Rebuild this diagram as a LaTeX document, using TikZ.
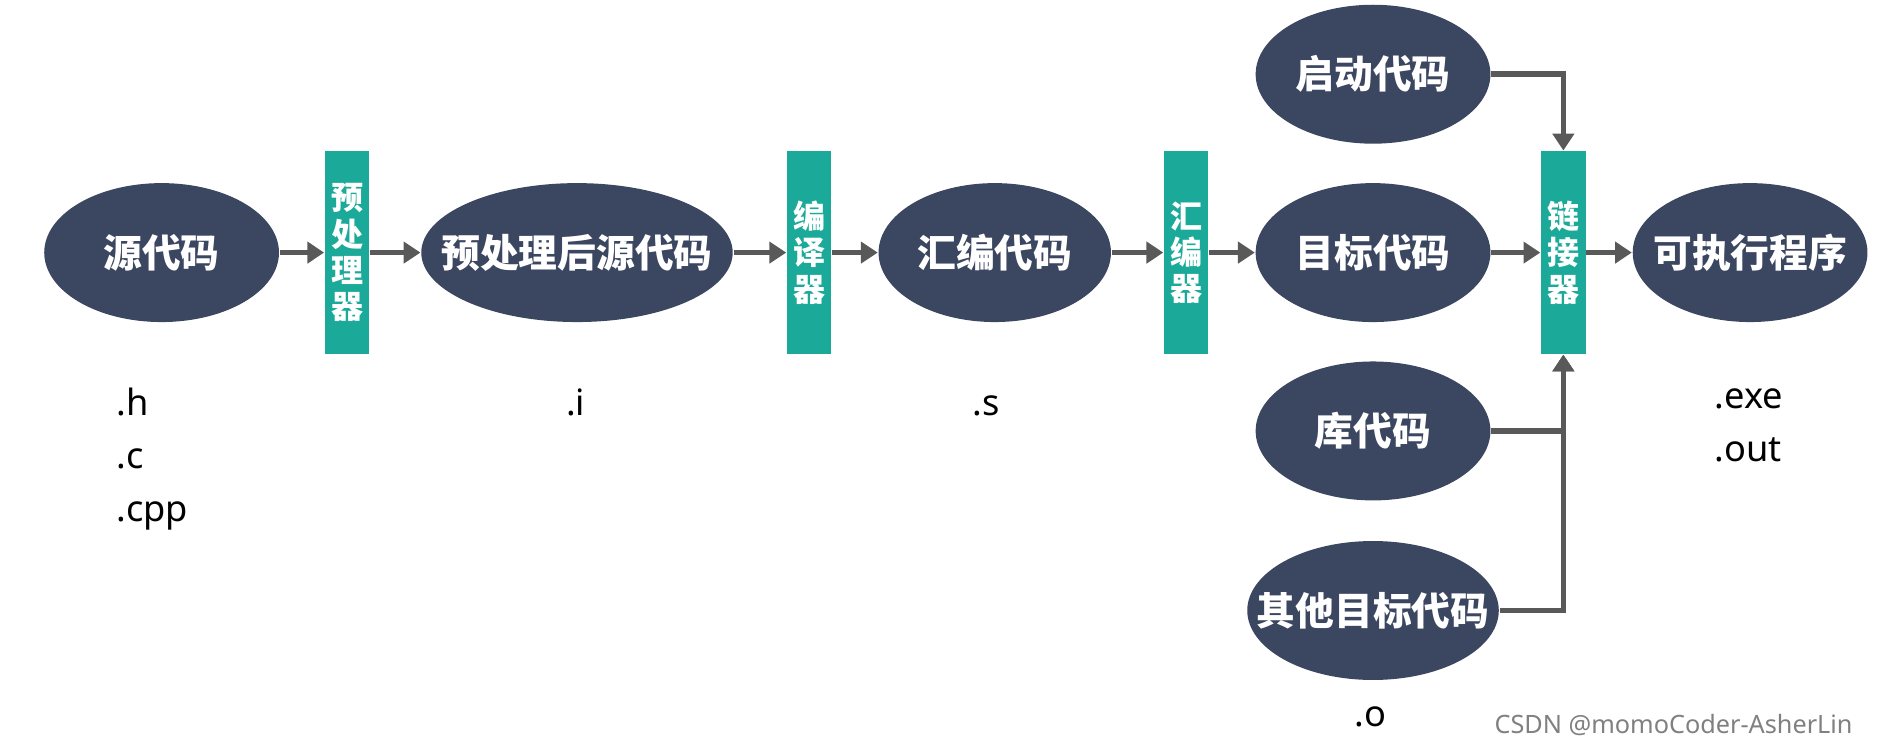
\documentclass[tikz,border=0pt]{standalone}
\usepackage{fontspec}
\setmainfont{Noto Sans}
\newfontfamily\cjk{Noto Sans CJK SC}
\usetikzlibrary{shapes.geometric,arrows.meta}
\definecolor{navy}{HTML}{3B4660}
\definecolor{teal}{HTML}{1BAA9A}
\definecolor{wire}{HTML}{595959}
\newcommand{\stagetext}[1]{\makebox[0pt]{#1}}
\tikzset{
  stage/.style={ellipse, fill=navy, text=white, font=\cjk\bfseries\fontsize{9.2}{10}\selectfont,
    minimum width=1.96cm, minimum height=1.16cm, inner sep=0pt},
  tool/.style={rectangle, fill=teal, text=white, font=\cjk\bfseries\fontsize{7.6}{8.6}\selectfont,
    minimum width=0.37cm, minimum height=1.69cm, inner sep=0pt, align=center},
  ext/.style={font=\fontsize{8.6}{12.6}\selectfont, align=left},
  flow/.style={wire, line width=1.3pt, -{Triangle[length=4pt,width=5pt]}}
}
\begin{document}
\begin{tikzpicture}[x=0.01cm, y=-0.01cm]
    \useasboundingbox (0, 0) rectangle (1568, 621);
    \node[stage] (src) at (135, 211) {\stagetext{源代码}};
    \node[tool] (pre) at (290, 211) {预\\处\\理\\器};
    \node[stage, minimum width=2.60cm] (ppsrc) at (482, 211) {\stagetext{预处理后源代码}};
    \node[tool] (cc) at (676, 211) {编\\译\\器};
    \node[stage, minimum width=1.94cm] (asm) at (831, 211) {\stagetext{汇编代码}};
    \node[tool] (as) at (991, 211) {汇\\编\\器};
    \node[stage] (obj) at (1147, 211) {\stagetext{目标代码}};
    \node[tool] (ld) at (1306, 211) {链\\接\\器};
    \node[stage] (exe) at (1462, 211) {\stagetext{可执行程序}};
    \node[stage] (crt) at (1147, 62) {\stagetext{启动代码}};
    \node[stage] (lib) at (1147, 360) {\stagetext{库代码}};
    \node[stage, minimum width=2.10cm] (other) at (1147, 510) {\stagetext{其他目标代码}};
    % file suffixes
    \node[ext, anchor=north west] (srcext) at (85, 312) {.h\\.c\\.cpp};
    \node[ext, anchor=north] (ppext) at (481, 312) {.i};
    \node[ext, anchor=north] (asmext) at (824, 318) {.s};
    \node[ext, anchor=north west] (exeext) at (1420, 312) {.exe\\.out};
    \node[ext, anchor=north] (objext) at (1145, 578) {.o};
    \node[text=gray, font=\fontsize{6}{7}\selectfont, anchor=east] (mark) at (1560, 606) {CSDN @momoCoder-AsherLin};
    \draw[flow] (src) -- (pre);
    \draw[flow] (pre) -- (ppsrc);
    \draw[flow] (ppsrc) -- (cc);
    \draw[flow] (cc) -- (asm);
    \draw[flow] (asm) -- (as);
    \draw[flow] (as) -- (obj);
    \draw[flow] (obj) -- (ld);
    \draw[flow] (ld) -- (exe);
    \draw[flow] (crt.east) -| (ld.north);
    \draw[flow] (lib.east) -| (ld.south);
    \draw[flow] (other.east) -| (ld.south);
\end{tikzpicture}
\end{document}
